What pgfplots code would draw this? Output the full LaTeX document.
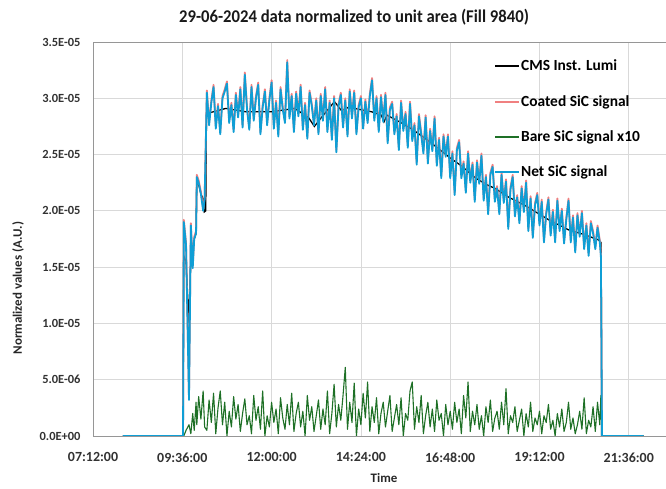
\documentclass[border=0pt]{standalone}
\usepackage{pgfplots}
\pgfplotsset{compat=1.18}
\usepackage{pgfplotstable}
\usepackage{fontspec}
\setmainfont{Carlito}
\newfontfamily\titlefont{Carlito}[FakeStretch=0.93]

\definecolor{coated}{RGB}{240,128,128}
\definecolor{bare}{RGB}{30,112,38}
\definecolor{net}{RGB}{15,158,213}
\definecolor{gridc}{RGB}{217,217,217}
\definecolor{axc}{RGB}{150,150,150}
\definecolor{txt}{RGB}{50,50,50}

\pgfplotstableread{
t lumi
8.00 0
9.62 0
9.64 1.60
9.70 1.55
9.78 1.00
9.82 1.50
9.86 1.60
9.91 1.74
9.97 1.80
9.99 2.27
10.05 2.22
10.10 2.15
10.17 2.10
10.19 1.99
10.23 2.00
10.25 2.87
10.32 2.87
10.77 2.91
11.31 2.88
12.00 2.88
12.62 2.91
12.99 2.83
13.15 2.75
13.34 2.83
13.69 2.97
13.88 2.89
14.07 2.92
14.69 2.88
14.95 2.85
15.02 2.79
15.10 2.85
15.50 2.78
15.80 2.72
16.10 2.65
16.42 2.57
16.80 2.47
17.10 2.40
17.49 2.29
17.80 2.23
18.00 2.20
18.38 2.12
18.80 2.05
19.20 1.97
19.45 1.92
19.99 1.83
20.40 1.79
20.80 1.74
20.85 1.72
20.86 1.60
20.87 0
22.00 0
}\lumidata

\pgfplotstableread{
t net coated bare
8.00 0 0 0
9.62 0 0 0
9.64 1.90 1.92 0.00
9.70 1.70 1.72 0.05
9.78 0.32 0.34 0.10
9.83 1.87 1.89 0.02
9.88 1.49 1.51 0.20
9.92 1.75 1.77 0.05
9.97 1.80 1.82 0.30
9.99 2.30 2.32 0.10
10.04 2.25 2.27 0.35
10.10 2.15 2.17 0.15
10.16 2.00 2.02 0.40
10.20 2.10 2.12 0.08
10.26 3.05 3.07 0.05
10.32 2.76 2.78 0.32
10.38 2.96 2.98 0.12
10.44 3.10 3.12 0.38
10.50 2.73 2.75 0.02
10.56 2.93 2.95 0.25
10.62 2.68 2.70 0.40
10.68 3.00 3.02 0.10
10.74 3.06 3.08 0.30
10.80 3.13 3.15 0.00
10.86 2.78 2.80 0.22
10.92 2.94 2.96 0.08
10.98 2.70 2.72 0.35
11.04 3.03 3.05 0.15
11.10 2.83 2.85 0.28
11.16 3.08 3.10 0.04
11.22 2.74 2.76 0.20
11.28 3.21 3.23 0.33
11.34 2.90 2.92 0.10
11.40 2.72 2.74 0.18
11.46 3.10 3.12 0.02
11.52 2.80 2.82 0.36
11.58 3.00 3.02 0.14
11.64 3.12 3.14 0.26
11.70 2.68 2.70 0.06
11.76 2.92 2.94 0.40
11.82 3.06 3.08 0.00
11.88 2.76 2.78 0.18
11.94 2.98 3.00 0.08
12.00 3.14 3.16 0.30
12.06 2.73 2.75 0.12
12.12 2.96 2.98 0.24
12.18 2.66 2.68 0.02
12.24 3.08 3.10 0.34
12.30 2.90 2.92 0.16
12.36 2.78 2.80 0.06
12.42 3.32 3.34 0.28
12.48 2.82 2.84 0.10
12.54 3.02 3.04 0.38
12.60 2.70 2.72 0.04
12.66 3.04 3.06 0.20
12.72 2.84 2.86 0.30
12.78 3.10 3.12 0.08
12.84 2.72 2.74 0.22
12.90 2.94 2.96 0.00
12.96 2.64 2.66 0.36
13.02 3.05 3.07 0.14
13.08 2.93 2.95 0.26
13.14 2.76 2.78 0.04
13.20 2.98 3.00 0.18
13.26 2.68 2.70 0.32
13.32 3.02 3.04 0.06
13.38 2.80 2.82 0.24
13.44 3.08 3.10 0.10
13.50 2.70 2.72 0.40
13.56 2.96 2.98 0.02
13.62 2.63 2.65 0.20
13.68 3.00 3.02 0.46
13.74 2.52 2.54 0.08
13.80 2.93 2.95 0.28
13.86 3.03 3.05 0.14
13.92 2.74 2.76 0.36
13.98 2.98 3.00 0.61
14.04 2.66 2.68 0.06
14.10 3.06 3.08 0.30
14.16 2.82 2.84 0.12
14.22 3.05 3.07 0.47
14.28 2.68 2.70 0.00
14.34 2.92 2.94 0.24
14.40 3.00 3.02 0.10
14.46 2.73 2.75 0.38
14.52 2.97 2.99 0.16
14.58 2.78 2.80 0.48
14.64 3.02 3.04 0.04
14.70 3.16 3.18 0.26
14.76 2.80 2.82 0.12
14.82 3.00 3.02 0.34
14.88 2.70 2.72 0.02
14.94 3.01 3.03 0.20
15.00 2.79 2.81 0.30
15.06 3.03 3.05 0.08
15.12 2.60 2.62 0.22
15.18 2.90 2.92 0.36
15.24 2.95 2.97 0.04
15.30 2.68 2.70 0.16
15.36 2.84 2.86 0.28
15.42 2.54 2.56 0.10
15.48 2.96 2.98 0.34
15.54 2.71 2.73 0.00
15.60 2.86 2.88 0.20
15.66 2.56 2.58 0.14
15.72 2.95 2.97 0.40
15.78 2.62 2.64 0.48
15.84 2.76 2.78 0.06
15.90 2.41 2.43 0.26
15.96 2.84 2.86 0.12
16.02 2.68 2.70 0.36
16.08 2.51 2.53 0.02
16.14 2.83 2.85 0.18
16.20 2.42 2.44 0.30
16.26 2.71 2.73 0.08
16.32 2.53 2.55 0.24
16.38 2.82 2.84 0.04
16.44 2.40 2.42 0.32
16.50 2.63 2.65 0.14
16.56 2.29 2.31 0.20
16.62 2.66 2.68 0.00
16.68 2.48 2.50 0.28
16.74 2.66 2.68 0.10
16.80 2.29 2.31 0.22
16.86 2.51 2.53 0.06
16.92 2.14 2.16 0.30
16.98 2.54 2.56 0.12
17.04 2.61 2.63 0.24
17.10 2.29 2.31 0.02
17.16 2.42 2.44 0.36
17.22 2.16 2.18 0.16
17.28 2.51 2.53 0.48
17.34 2.25 2.27 0.04
17.40 2.41 2.43 0.22
17.46 2.08 2.10 0.10
17.52 2.43 2.45 0.28
17.58 2.24 2.26 0.06
17.64 2.49 2.51 0.18
17.70 2.09 2.11 0.00
17.76 2.30 2.32 0.26
17.82 1.97 1.99 0.12
17.88 2.32 2.34 0.32
17.94 2.39 2.41 0.04
18.00 2.08 2.10 0.16
18.06 2.20 2.22 0.22
18.12 1.97 1.99 0.06
18.18 2.32 2.34 0.30
18.24 2.07 2.09 0.10
18.30 2.26 2.28 0.42
18.36 1.84 1.86 0.02
18.42 2.19 2.21 0.18
18.48 2.30 2.32 0.12
18.54 1.95 1.97 0.26
18.60 2.12 2.14 0.04
18.66 1.89 1.91 0.14
18.72 2.20 2.22 0.24
18.78 1.99 2.01 0.00
18.84 2.25 2.27 0.20
18.90 1.82 1.84 0.08
18.96 2.11 2.13 0.30
19.02 1.76 1.78 0.04
19.08 2.05 2.07 0.16
19.14 2.14 2.16 0.10
19.20 1.87 1.89 0.22
19.26 2.08 2.10 0.02
19.32 1.72 1.74 0.18
19.38 1.97 1.99 0.12
19.44 2.10 2.12 0.28
19.50 1.78 1.80 0.06
19.56 1.99 2.01 0.14
19.62 1.72 1.74 0.00
19.68 2.09 2.11 0.20
19.74 1.82 1.84 0.08
19.80 2.00 2.02 0.24
19.86 1.71 1.73 0.04
19.92 1.92 1.94 0.12
19.98 2.09 2.11 0.30
20.04 1.72 1.74 0.06
20.10 1.94 1.96 0.16
20.16 1.63 1.65 0.02
20.22 1.96 1.98 0.10
20.28 1.77 1.79 0.22
20.34 1.98 2.00 0.06
20.40 1.66 1.68 0.34
20.46 1.87 1.89 0.02
20.52 1.60 1.62 0.14
20.58 1.89 1.91 0.08
20.64 1.80 1.82 0.26
20.70 1.66 1.68 0.04
20.76 1.85 1.87 0.30
20.82 1.72 1.74 0.10
20.85 1.60 1.62 0.36
20.88 0 0 0
22.00 0 0 0
}\sigdata

\begin{document}
\begin{tikzpicture}
\useasboundingbox (0bp,0bp) rectangle (666bp,489bp);
\begin{axis}[
  at={(93bp,53bp)}, anchor=south west,
  width=573bp, height=394bp, scale only axis,
  xmin=7.2, xmax=22.6, ymin=0, ymax=3.5,
  xtick={7.2,9.6,12,14.4,16.8,19.2,21.6},
  xticklabels={07:12:00,09:36:00,12:00:00,14:24:00,16:48:00,19:12:00,21:36:00},
  ytick={0,0.5,1,1.5,2,2.5,3,3.5},
  yticklabels={0.0E+00,5.0E-06,1.0E-05,1.5E-05,2.0E-05,2.5E-05,3.0E-05,3.5E-05},
  xticklabel style={font=\bfseries\fontsize{14}{14}\selectfont, text=txt, yshift=-13bp},
  yticklabel style={font=\bfseries\fontsize{12.5}{12.5}\selectfont, text=txt, xshift=-9bp},
  grid=major,
  major grid style={gridc, line width=0.8bp},
  axis x line*=bottom, axis y line*=left,
  axis line style={-, axc, line width=0.9bp},
  tick style={draw=none},
  legend cell align=left,
  legend style={at={(0.70,0.957)}, anchor=north west, draw=none, fill=none,
    font=\bfseries\fontsize{15.5}{15.5}\selectfont, text=black,
    row sep=21bp, inner sep=0pt, nodes={inner sep=1bp}},
  legend image code/.code={\draw[#1, line width=1.8bp] (0bp,0bp) -- (24bp,0bp);},
]
\addplot[black, line width=1.3bp] table[x=t, y=lumi] {\lumidata};
\addlegendentry{CMS Inst. Lumi}
\addplot[coated, line width=1.8bp, line join=round] table[x=t, y=coated] {\sigdata};
\addlegendentry{Coated SiC signal}
\addplot[bare, line width=1.1bp, line join=round] table[x=t, y=bare] {\sigdata};
\addlegendentry{Bare SiC signal x10}
\addplot[net, line width=1.8bp, line join=round] table[x=t, y=net] {\sigdata};
\addlegendentry{Net SiC signal}
\draw[axc, line width=0.9bp] (rel axis cs:0,1) -- (rel axis cs:1,1);
\end{axis}
\node[font=\titlefont\bfseries\fontsize{18}{18}\selectfont, text=black!90] at (354bp,472bp) {29-06-2024 data normalized to unit area (Fill 9840)};
\node[font=\bfseries\fontsize{13}{13}\selectfont, text=black!85, rotate=90] at (18bp,201bp) {Normalized values (A.U.)};
\node[font=\bfseries\fontsize{13}{13}\selectfont, text=black!85] at (384bp,11bp) {Time};
\end{tikzpicture}
\end{document}
